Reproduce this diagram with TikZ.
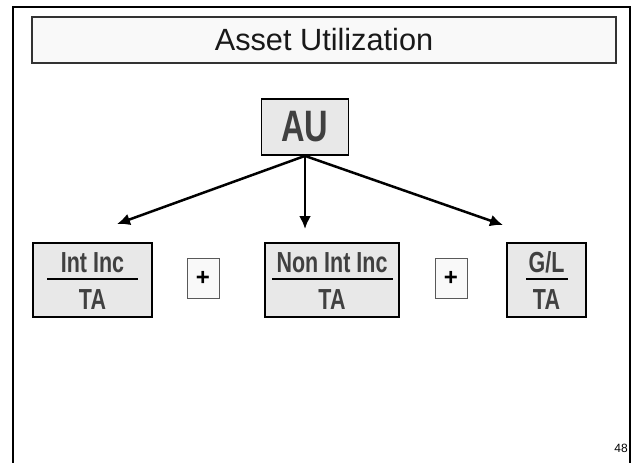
\documentclass[tikz,border=0pt]{standalone}
\usepackage{fontspec}
\setmainfont{Liberation Sans}
\newfontfamily{\narrowsans}[FakeStretch=0.74]{Liberation Sans}
\usetikzlibrary{arrows.meta}

\definecolor{boxgray}{HTML}{E8E8E8}
\definecolor{txtgray}{HTML}{404040}
\definecolor{titlefill}{HTML}{F9F9F9}

\tikzset{
    fracbox/.style={draw=black, line width=1.8pt, fill=boxgray, minimum height=74pt, inner sep=0pt},
    fractxt/.style={anchor=base, inner sep=0pt, text=txtgray, font=\narrowsans\bfseries\fontsize{29}{31}\selectfont},
    fracline/.style={line width=2pt},
    plusbox/.style={draw=black!65, line width=0.8pt, fill=titlefill, minimum width=32pt, minimum height=40pt, inner sep=0pt, font=\bfseries\fontsize{24}{26}\selectfont},
    branch/.style={line width=2.5pt, -{Latex[length=13pt,width=12pt]}}
}

\begin{document}
\begin{tikzpicture}[x=1pt, y=1pt]
    \useasboundingbox (0, 0) rectangle (632, -463);
    % outer frame, open at the bottom
    \draw[line width=2.5pt] (13, -463) -- (13, -7) -- (630, -7) -- (630, -463);
    % title
    \draw[draw=black!80, line width=1.2pt, fill=titlefill] (32, -17) rectangle (616, -63);
    \node[font=\fontsize{30.7}{34}\selectfont, text=black!90] (title) at (324, -40) {Asset Utilization};
    % top box
    \node[fracbox, minimum width=87pt, minimum height=56pt, font=\narrowsans\bfseries\fontsize{44}{46}\selectfont, text=txtgray] (au) at (305, -127) {AU};
    % arrow ends
    \coordinate (lefttip) at (117, -224);
    \coordinate (midtip) at (305, -229);
    \coordinate (righttip) at (503, -225);
    \draw[branch] (au.south) -- (lefttip);
    \draw[branch] (au.south) -- (midtip);
    \draw[branch] (au.south) -- (righttip);
    % Int Inc / TA
    \node[fracbox, minimum width=119pt] (intinc) at (92.5, -280) {};
    \node[fractxt] (intincN) at (92.5, -272) {Int Inc};
    \draw[fracline] (47, -279) -- (138, -279);
    \node[fractxt] (intincD) at (92.5, -309) {TA};
    \node[plusbox] (plusA) at (203, -278) {+};
    % Non Int Inc / TA
    \node[fracbox, minimum width=134pt] (nonint) at (332, -280) {};
    \node[fractxt] (nonintN) at (332, -272) {Non Int Inc};
    \draw[fracline] (272, -279) -- (393, -279);
    \node[fractxt] (nonintD) at (332, -309) {TA};
    \node[plusbox] (plusB) at (451, -278) {+};
    % G/L / TA
    \node[fracbox, minimum width=79pt] (gl) at (546.5, -280) {};
    \node[fractxt] (glN) at (546.5, -272) {G/L};
    \draw[fracline] (526, -279) -- (568, -279);
    \node[fractxt] (glD) at (546.5, -309) {TA};
    % page number
    \node[anchor=base east, inner sep=0pt, font=\fontsize{12}{14}\selectfont] (pagenum) at (628, -452) {48};
\end{tikzpicture}
\end{document}
